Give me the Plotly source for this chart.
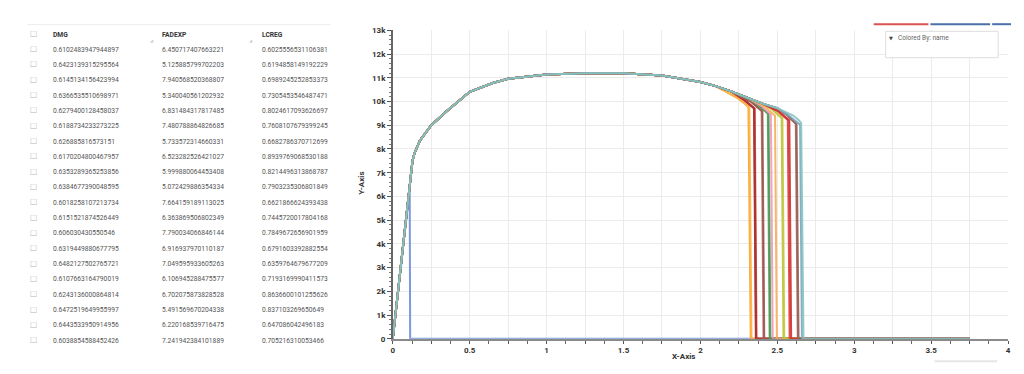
import plotly.graph_objects as go

# ---------------- table data ----------------
TABLE_HEADERS = ["DMG", "FADEXP", "LCREG"]
DMG = [
    "0.6102483947944897", "0.6423139315295564", "0.6145134156423994", "0.6366535510698971",
    "0.6279400128458037", "0.6188734233273225", "0.626885816573151", "0.6170204800467957",
    "0.6353289365253856", "0.6384677390048595", "0.6018258107213734", "0.6151521874526449",
    "0.606030430550546", "0.6319449880677795", "0.6482127502765721", "0.6107663164790019",
    "0.6243136000864814", "0.6472519649955997", "0.6443533950914956", "0.6038854588452426",
]
FADEXP = [
    "6.450717407663221", "5.125885799702203", "7.940568520368807", "5.340040561202932",
    "6.831484317817485", "7.480788864826685", "5.733572314660331", "6.523282526421027",
    "5.999880064453408", "5.072429886354334", "7.664159189113025", "6.363869506802349",
    "7.790034066846144", "6.916937970110187", "7.049595933605263", "6.106945288475577",
    "6.702075873828528", "5.491569670204338", "6.220168539716475", "7.241942384101889",
]
LCREG = [
    "0.6025556531106381", "0.6194858149192229", "0.6989245252853373", "0.7305453546487471",
    "0.8024617093626697", "0.7608107679399245", "0.6682786370712699", "0.8939769068530188",
    "0.8214496313868787", "0.7903235306801849", "0.6621866624393438", "0.7445720017804168",
    "0.7849672656901959", "0.6791603392882554", "0.6359764679677209", "0.7193169990411573",
    "0.8636600101255626", "0.837103269650649", "0.647086042496183", "0.705216310053466",
]

# ---------------- curve data ----------------
# shared loading path (read off the envelope)
BASE_X = [0, 0.11, 0.118, 0.128, 0.14, 0.176, 0.25, 0.35, 0.5, 0.65, 0.75, 0.9, 1.0,
          1.25, 1.4, 1.5, 1.75, 1.9, 2.0, 2.1, 2.2, 2.3, 2.4, 2.5, 2.6, 2.65]
BASE_Y = [0, 6300, 6900, 7500, 7800, 8350, 9000, 9590, 10410, 10780, 10960, 11080, 11140,
          11190, 11200, 11190, 11100, 10950, 10820, 10650, 10430, 10170, 9920, 9720, 9420, 9200]

# per-curve failure description (draw order: first drawn -> last drawn)
LEAVE_X = [0.11, 2.1, 2.1, 2.2, 2.2, 2.2, 2.2, 2.2, 2.3, 2.3, 2.3, 2.3, 2.4, 2.4, 2.4, 2.4, 2.5, 2.5, 2.5, 2.6]
MID_X   = [None, 2.245, 2.25, 2.28, 2.29, 2.285, 2.33, 2.335, 2.37, 2.375, 2.39, 2.42, 2.46, 2.465, 2.50, 2.51, 2.555, 2.56, 2.58, 2.635]
MID_Y   = [None, 10130, 10120, 10080, 10060, 10070, 9980, 9970, 9880, 9870, 9840, 9780, 9700, 9690, 9610, 9590, 9470, 9460, 9380, 9240]
KNEE_X  = [None, 2.312, 2.318, 2.348, 2.353, 2.350, 2.398, 2.403, 2.438, 2.443, 2.458, 2.485, 2.528, 2.533, 2.568, 2.578, 2.620, 2.625, 2.648, 2.655]
KNEE_Y  = [None, 9780, 9760, 9720, 9700, 9710, 9600, 9590, 9500, 9490, 9450, 9400, 9310, 9300, 9220, 9200, 9060, 9050, 9020, 9100]
DROP_X  = [0.113, 2.327, 2.332, 2.360, 2.365, 2.362, 2.410, 2.415, 2.450, 2.455, 2.470, 2.497, 2.540, 2.545, 2.580, 2.590, 2.633, 2.638, 2.660, 2.670]
END_X = 3.75

COLORS = ["#6f8fdb", "#f7a530", "#ffb347", "#b23a3a", "#d9534f", "#a93232", "#cd6565",
          "#955a50", "#5aa55a", "#4f9a5c", "#f09ab8", "#f7ad5c", "#bcc23a", "#c5c845",
          "#e03c3c", "#cc3333", "#a0685e", "#9a6256", "#7aa6c2", "#86c5bf"]

W, H = 1024, 374


def px(x):
    return x / W


def py(y):
    return (H - y) / H


fig = go.Figure()

# ---------------- curves ----------------
for i in range(len(DROP_X)):
    xs = [bx for bx in BASE_X if bx <= LEAVE_X[i]]
    ys = [by for bx, by in zip(BASE_X, BASE_Y) if bx <= LEAVE_X[i]]
    if MID_X[i] is not None:
        xs += [MID_X[i], KNEE_X[i]]
        ys += [MID_Y[i], KNEE_Y[i]]
    xs += [DROP_X[i], END_X]
    ys += [0, 0]
    fig.add_trace(go.Scatter(
        x=xs, y=ys, mode="lines", line=dict(color=COLORS[i], width=2),
        opacity=0.9, showlegend=False, hoverinfo="skip",
    ))

tick_font = dict(family="Roboto", size=8, color="#333", weight="bold")
xt = [k * 0.25 for k in range(17)]
fig.update_layout(
    width=W, height=H,
    margin=dict(l=0, r=0, t=0, b=0),
    paper_bgcolor="white", plot_bgcolor="white",
    showlegend=False,
    xaxis=dict(
        domain=[px(392.7), px(1011)], range=[0, 4],
        tickmode="array", tickvals=xt,
        ticktext=[("%g" % v) if abs(v * 2 - round(v * 2)) < 1e-9 else "" for v in xt],
        showgrid=True, gridcolor="#ececec", gridwidth=1,
        showline=True, linecolor="#8a8a8a", linewidth=2,
        ticks="outside", ticklen=3, tickcolor="#555", tickwidth=1,
        minor=dict(tick0=0, dtick=0.125, ticks="outside", ticklen=3, tickcolor="#666", showgrid=False),
        tickfont=tick_font, zeroline=False,
    ),
    yaxis=dict(
        domain=[py(343), py(27)], range=[0, 13000],
        dtick=1000, tick0=0, tickformat="~s",
        showgrid=True, gridcolor="#ececec", gridwidth=1,
        showline=True, linecolor="#666", linewidth=1.5,
        ticks="outside", ticklen=4, tickcolor="#555", tickwidth=1,
        minor=dict(dtick=200, ticks="outside", ticklen=2, tickcolor="#777", showgrid=False),
        tickfont=tick_font, zeroline=False,
    ),
)

# axis titles
fig.add_annotation(text="<b>Y-Axis</b>", xref="paper", yref="paper", x=px(361), y=py(184),
                   xanchor="center", yanchor="middle",
                   textangle=-90, showarrow=False, font=dict(family="Roboto", size=8, color="#333"))
fig.add_annotation(text="<b>X-Axis</b>", xref="paper", yref="paper", x=px(685), y=py(361.5),
                   xanchor="center", yanchor="middle", borderpad=0,
                   showarrow=False, font=dict(family="Roboto", size=8, color="#333"))

# ---------------- table (text grid) ----------------
COL_X = [49, 159, 259]
HEADER_Y = 31.7
ROW0_Y = 46.7
ROW_STEP = 15.7
CHECK_X = 32
CHECK = "\u2610"

cell_font = dict(family="Roboto", size=6.7, color="#555")
head_font = dict(family="Roboto", size=6.7, color="#333")
chk_font = dict(family="DejaVu Sans", size=8, color="#b8b8b8")

fig.add_annotation(text=CHECK, xref="paper", yref="paper", x=px(CHECK_X), y=py(HEADER_Y),
                   xanchor="center", yanchor="middle", showarrow=False, font=chk_font)
for cx, h in zip(COL_X, TABLE_HEADERS):
    fig.add_annotation(text="<b>%s</b>" % h, xref="paper", yref="paper", x=px(cx), y=py(HEADER_Y),
                       xanchor="left", yanchor="middle", showarrow=False, font=head_font)

for r, row in enumerate(zip(DMG, FADEXP, LCREG)):
    yy = ROW0_Y + r * ROW_STEP
    fig.add_annotation(text=CHECK, xref="paper", yref="paper", x=px(CHECK_X), y=py(yy),
                       xanchor="center", yanchor="middle", showarrow=False, font=chk_font)
    for cx, val in zip(COL_X, row):
        fig.add_annotation(text=val, xref="paper", yref="paper", x=px(cx), y=py(yy),
                           xanchor="left", yanchor="middle", showarrow=False, font=cell_font)

# column resize marks in table header
for mx in (151, 250):
    fig.add_annotation(text="\u25E2", xref="paper", yref="paper", x=px(mx), y=py(37),
                       xanchor="center", yanchor="middle", showarrow=False,
                       font=dict(family="DejaVu Sans", size=4, color="#c8c8c8"))

# ---------------- UI chrome ----------------
shapes = [
    dict(type="line", xref="paper", yref="paper", x0=px(25), x1=px(330), y0=py(21), y1=py(21),
         line=dict(color="#eeeeee", width=1)),
    dict(type="line", xref="paper", yref="paper", x0=px(876), x1=px(931), y0=py(20.7), y1=py(20.7),
         line=dict(color="#d9534f", width=2)),
    dict(type="line", xref="paper", yref="paper", x0=px(933), x1=px(993), y0=py(20.7), y1=py(20.7),
         line=dict(color="#4a72a8", width=2)),
    dict(type="line", xref="paper", yref="paper", x0=px(995), x1=px(1014), y0=py(20.7), y1=py(20.7),
         line=dict(color="#4a72a8", width=2)),
    dict(type="rect", xref="paper", yref="paper", x0=px(888), x1=px(1001), y0=py(55), y1=py(28),
         line=dict(color="#dddddd", width=1), fillcolor="white"),
    dict(type="line", xref="paper", yref="paper", x0=px(937), x1=px(1000), y0=py(366), y1=py(366),
         line=dict(color="#e6e6e6", width=2)),
]
fig.update_layout(shapes=shapes)
fig.add_annotation(text="\u25BC", xref="paper", yref="paper", x=px(893), y=py(35),
                   xanchor="center", yanchor="middle",
                   showarrow=False, font=dict(family="DejaVu Sans", size=5, color="#444"))
fig.add_annotation(text="Colored By: name", xref="paper", yref="paper", x=px(898), y=py(35),
                   xanchor="left", yanchor="middle",
                   showarrow=False, font=dict(family="Roboto", size=6.5, color="#666"))

fig.write_html("out.html")
